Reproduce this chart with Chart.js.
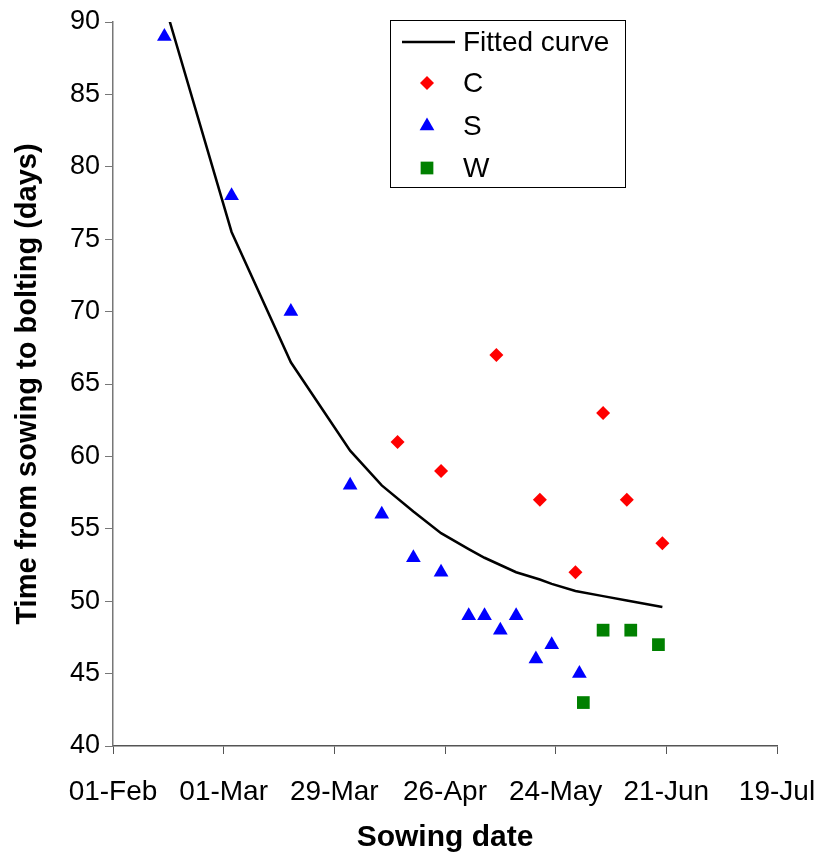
<!DOCTYPE html>
<html>
<head>
<meta charset="utf-8">
<title>Time from sowing to bolting</title>
<script src="https://cdn.jsdelivr.net/npm/chart.js@4.4.1/dist/chart.umd.min.js"></script>
<style>
    html, body { margin: 0; padding: 0; background: #fff; }
    #wrap { width: 822px; height: 857px; position: relative; }
</style>
</head>
<body>
<div id="wrap"><canvas id="chart" width="822" height="857"></canvas></div>
<script>
// Days counted from 01-Feb (x axis), values in days (y axis)
const xTickLabels = ['01-Feb', '01-Mar', '29-Mar', '26-Apr', '24-May', '21-Jun', '19-Jul'];

const curveDays   = [13, 30, 45, 60, 68, 76, 83, 90, 94, 98, 102, 108, 111, 117, 124, 130, 139];
const curveValues = [91.3, 75.5, 66.5, 60.4, 58.0, 56.2, 54.7, 53.6, 53.0, 52.5, 52.0, 51.5, 51.2, 50.7, 50.35, 50.05, 49.6];

const cDays   = [72, 83, 97, 108, 117, 124, 130, 139];
const cValues = [61, 59, 67, 57, 52, 63, 57, 54];

const sDays   = [13, 30, 45, 60, 68, 76, 83, 90, 94, 98, 102, 107, 111, 118];
const sValues = [89, 78, 70, 58, 56, 53, 52, 49, 49, 48, 49, 46, 47, 45];

const wDays   = [119, 124, 131, 138];
const wValues = [43, 48, 48, 47];

const FONT = '"Liberation Sans", Arial, sans-serif';

function toPoints(xs, ys) {
    return xs.map((x, i) => ({ x: x, y: ys[i] }));
}

// Leyenda dibujada dentro del área del gráfico (como en Excel)
const boxLegend = {
    id: 'boxLegend',
    afterDatasetsDraw(chart) {
        const ctx = chart.ctx;
        const left = 390, top = 20, right = 625, bottom = 187;
        const rows = [42, 83, 126, 168];
        ctx.save();
        ctx.fillStyle = '#fff';
        ctx.fillRect(left, top, right - left, bottom - top);
        ctx.strokeStyle = '#000';
        ctx.lineWidth = 1;
        ctx.strokeRect(left + 0.5, top + 0.5, right - left, bottom - top);
        ctx.font = '28px ' + FONT;
        ctx.textBaseline = 'middle';
        chart.data.datasets.forEach((ds, i) => {
            const y = rows[i];
            if (ds.type === 'line') {
                ctx.strokeStyle = ds.borderColor;
                ctx.lineWidth = ds.borderWidth;
                ctx.beginPath();
                ctx.moveTo(402, y);
                ctx.lineTo(455, y);
                ctx.stroke();
            } else {
                ctx.fillStyle = ds.backgroundColor;
                Chart.helpers.drawPoint(ctx, {
                    pointStyle: ds.pointStyle,
                    radius: ds.pointRadius,
                    rotation: 0,
                    borderWidth: 0
                }, 427, y);
            }
            ctx.fillStyle = '#000';
            ctx.fillText(ds.label, 463, y + 1);
        });
        ctx.restore();
    }
};

const ctx = document.getElementById('chart');
new Chart(ctx, {
    type: 'scatter',
    data: {
        datasets: [
            {
                type: 'line',
                label: 'Fitted curve',
                data: toPoints(curveDays, curveValues),
                borderColor: '#000',
                borderWidth: 2.5,
                pointRadius: 0,
                tension: 0,
                fill: false
            },
            {
                label: 'C',
                data: toPoints(cDays, cValues),
                pointStyle: 'rectRot',
                pointRadius: 7,
                backgroundColor: '#ff0000',
                borderWidth: 0
            },
            {
                label: 'S',
                data: toPoints(sDays, sValues),
                pointStyle: 'triangle',
                pointRadius: 8.5,
                backgroundColor: '#0000ff',
                borderWidth: 0
            },
            {
                label: 'W',
                data: toPoints(wDays, wValues),
                pointStyle: 'rect',
                pointRadius: 9,
                backgroundColor: '#008000',
                borderWidth: 0
            }
        ]
    },
    options: {
        responsive: false,
        animation: false,
        layout: { padding: { top: 22, right: 45, left: 0, bottom: 0 } },
        plugins: {
            legend: { display: false },
            tooltip: { enabled: false }
        },
        scales: {
            x: {
                type: 'linear',
                min: 0,
                max: 168,
                afterFit(scale) {
                    scale.height = 111;
                    scale.paddingLeft = 0;
                    scale.paddingRight = 0;
                },
                ticks: {
                    stepSize: 28,
                    padding: 21,
                    color: '#000',
                    font: { family: FONT, size: 28 },
                    maxRotation: 0,
                    callback: (value) => xTickLabels[Math.round(value / 28)]
                },
                grid: {
                    drawOnChartArea: false,
                    tickLength: 8,
                    color: '#555'
                },
                border: { color: '#555', width: 1.5 },
                title: {
                    display: true,
                    text: 'Sowing date',
                    color: '#000',
                    font: { family: FONT, size: 30, weight: 'bold' },
                    padding: { top: 0, bottom: 1 }
                }
            },
            y: {
                min: 40,
                max: 90,
                afterFit(scale) {
                    scale.width = 113;
                    scale.paddingTop = 0;
                    scale.paddingBottom = 0;
                },
                ticks: {
                    stepSize: 5,
                    padding: 5,
                    color: '#000',
                    font: { family: FONT, size: 27 }
                },
                grid: {
                    drawOnChartArea: false,
                    tickLength: 8,
                    color: '#777'
                },
                border: { color: '#777', width: 1.5 },
                title: {
                    display: true,
                    text: 'Time from sowing to bolting (days)',
                    color: '#000',
                    font: { family: FONT, size: 29, weight: 'bold' },
                    padding: { top: 11, bottom: 0 }
                }
            }
        }
    },
    plugins: [boxLegend]
});
</script>
</body>
</html>
